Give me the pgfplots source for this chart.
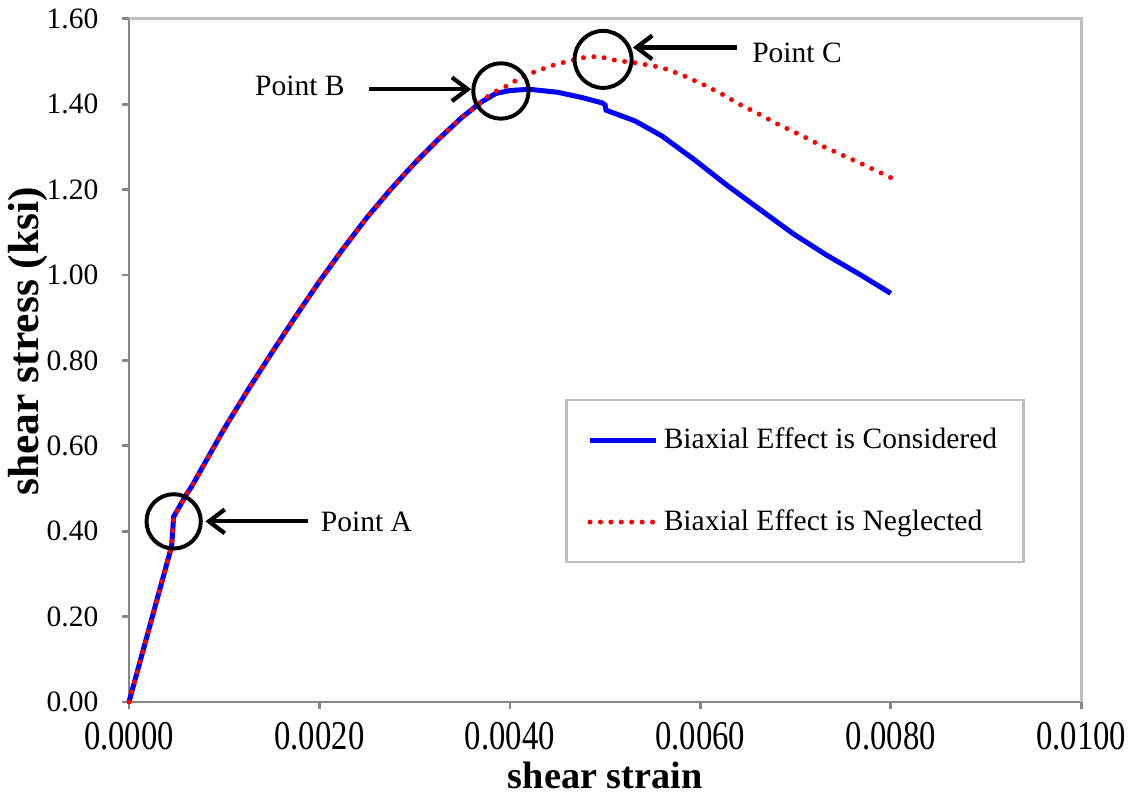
\documentclass[border=0pt]{standalone}
\usepackage{fontspec}
\setmainfont{Liberation Serif}
\usepackage{graphicx}
\usepackage{pgfplots}
\pgfplotsset{compat=1.18}
\usetikzlibrary{arrows.meta}
\definecolor{axisgray}{HTML}{868686}
\definecolor{framegray}{HTML}{BFBFBF}

\begin{document}
\begin{tikzpicture}[
  note/.style={font=\fontsize{11.2}{13}\selectfont, inner sep=0pt},
  ring/.style={draw=black, line width=1.5pt},
  pointer/.style={draw=black, line width=1.6pt, -{Straight Barb[length=6pt,width=9pt]}},
]
\begin{axis}[
  scale only axis,
  width=361pt, height=259pt,
  xmin=0, xmax=0.01, ymin=0, ymax=1.6,
  axis x line*=bottom, axis y line*=left,
  axis line style={axisgray, line width=1pt},
  tick style={axisgray, line width=1pt},
  tick align=outside, major tick length=2.6pt,
  xtick={0,0.002,0.004,0.006,0.008,0.01},
  ytick={0,0.2,0.4,0.6,0.8,1.0,1.2,1.4,1.6},
  scaled x ticks=false, scaled y ticks=false,
  xticklabel={\scalebox{0.8}[1]{\pgfmathprintnumber[fixed,fixed zerofill,precision=4,assume math mode=true]{\tick}}},
  xticklabel style={font=\fontsize{15.5}{18}\selectfont, yshift=-1.5pt},
  yticklabel style={font=\fontsize{11.2}{13}\selectfont, xshift=-5.5pt,
    /pgf/number format/.cd, fixed, fixed zerofill, precision=2, assume math mode=true},
  xlabel={\bfseries shear strain},
  ylabel={\bfseries shear stress (ksi)},
  xlabel style={font=\fontsize{14.5}{17}\selectfont, at={(axis description cs:0.5,-0.127)}, anchor=base},
  ylabel style={font=\fontsize{16.5}{19}\selectfont, at={(axis description cs:-0.075,0.528)}, anchor=south},
  legend style={at={(0.458,0.444)}, anchor=north west, draw=framegray, line width=1pt,
    inner xsep=8pt, inner ysep=8.5pt, row sep=17.7pt,
    font=\fontsize{11.2}{13}\selectfont},
  legend cell align=left,
  legend image code/.code={\draw[#1] (0pt,0pt) -- (25pt,0pt);},
  clip=false,
]
\draw[framegray, line width=1pt] (rel axis cs:0,1) -- (rel axis cs:1,1) -- (rel axis cs:1,0);

% biaxial effect considered
\addplot[blue, line width=1.9pt] coordinates {
  (0,0) (0.000448,0.365) (0.000469,0.434) (0.000600,0.485) (0.000656,0.504)
  (0.0010,0.640) (0.00125,0.731) (0.0015,0.818) (0.00175,0.903) (0.0020,0.985)
  (0.00225,1.062) (0.0025,1.135) (0.00275,1.201) (0.0030,1.262) (0.00325,1.318)
  (0.0035,1.370) (0.0037,1.405) (0.00385,1.425) (0.0040,1.432) (0.0042,1.435)
  (0.0045,1.428) (0.00475,1.416) (0.00497,1.403) (0.0050,1.398) (0.00501,1.386)
  (0.0053125,1.361) (0.005594,1.326) (0.0059375,1.270) (0.006281,1.210) (0.006635,1.152)
  (0.006979,1.096) (0.007323,1.047) (0.007677,1.001) (0.0080,0.957)
};
\addlegendentry{Biaxial Effect is Considered}

% biaxial effect neglected
\addplot[red, line width=1.9pt, line cap=round, dash pattern=on 0pt off 3.95pt] coordinates {
  (0,0) (0.000448,0.365) (0.000469,0.434) (0.000600,0.485) (0.000656,0.504)
  (0.0010,0.640) (0.00125,0.731) (0.0015,0.818) (0.00175,0.903) (0.0020,0.985)
  (0.00225,1.062) (0.0025,1.135) (0.00275,1.201) (0.0030,1.262) (0.00325,1.318)
  (0.0035,1.370) (0.0037,1.405) (0.003771,1.419) (0.003875,1.433) (0.003979,1.444)
  (0.004083,1.458) (0.004188,1.470) (0.004302,1.479) (0.004417,1.489) (0.0046,1.500)
  (0.004792,1.510) (0.004927,1.512) (0.005104,1.503) (0.005344,1.496) (0.005594,1.486)
  (0.0058125,1.468) (0.006042,1.445) (0.00625,1.421) (0.006385,1.403) (0.006615,1.377)
  (0.006823,1.352) (0.007052,1.328) (0.007271,1.303) (0.007479,1.282) (0.007708,1.259)
  (0.007927,1.236) (0.0080,1.228)
};
\addlegendentry{Biaxial Effect is Neglected}

% annotations
\draw[ring] (axis cs:0.000469,0.423) circle[radius=10.3pt];
\draw[pointer] (axis cs:0.001875,0.423) -- (axis cs:0.000802,0.423);
\node[note, anchor=west] at (axis cs:0.00201,0.423) {Point A};

\draw[ring] (axis cs:0.003906,1.431) circle[radius=10.5pt];
\draw[pointer] (axis cs:0.002521,1.435) -- (axis cs:0.003594,1.435);
\node[note, anchor=east] at (axis cs:0.002271,1.444) {Point B};

\draw[ring] (axis cs:0.004979,1.505) circle[radius=10.8pt];
\draw[pointer] (axis cs:0.006385,1.533) -- (axis cs:0.005292,1.533);
\node[note, anchor=west] at (axis cs:0.00654,1.521) {Point C};
\end{axis}
\end{tikzpicture}
\end{document}
